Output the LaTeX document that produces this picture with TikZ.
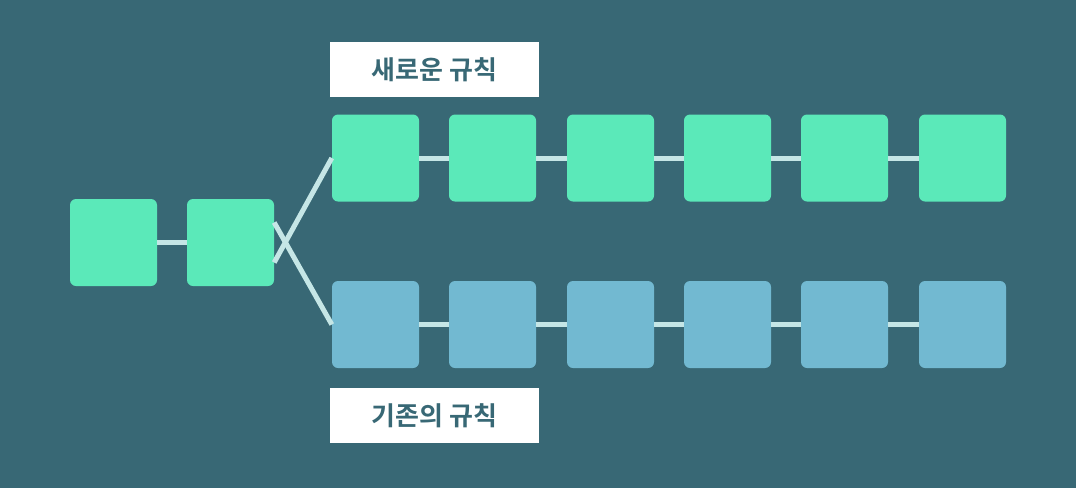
\documentclass[tikz,border=0pt]{standalone}
\usepackage{fontspec}
\newfontfamily\kr{Noto Sans CJK KR}[BoldFont={Noto Sans CJK KR Bold}]
\definecolor{bg}{HTML}{386875}
\definecolor{gr}{HTML}{5BE9B9}
\definecolor{bl}{HTML}{72B9D1}
\definecolor{ln}{HTML}{C5E6E6}
\definecolor{tx}{HTML}{386875}
\begin{document}
\begin{tikzpicture}[x=1pt,y=-1pt,
  blk/.style={minimum width=87pt,minimum height=87pt,inner sep=0,rounded corners=6pt},
  gblk/.style={blk,fill=gr},
  bblk/.style={blk,fill=bl},
  lnk/.style={draw=ln,line width=5pt},
  lab/.style={fill=white,minimum width=209pt,minimum height=55pt,inner sep=0,font=\kr\bfseries\fontsize{26}{30}\selectfont,text=tx}]
\fill[bg] (0,0) rectangle (1076,488);
\node[gblk] (a1) at (113.5,242.5) {};
\node[gblk] (a2) at (230.5,242.5) {};
\foreach \i/\x in {1/375.5,2/492.5,3/610.5,4/727.5,5/844.5,6/962.5}{
  \node[gblk] (t\i) at (\x,158) {};
  \node[bblk] (u\i) at (\x,324.5) {};
}
\begin{scope}[on background layer/.try]
\end{scope}
\draw[lnk] (a1.east) -- (a2.west);
\draw[lnk] ([yshift=-20pt]a2.east) -- (t1.west);
\draw[lnk] ([yshift=20pt]a2.east) -- (u1.west);
\foreach \i [count=\j from 2] in {1,...,5}{
  \draw[lnk] (t\i.east) -- (t\j.west);
  \draw[lnk] (u\i.east) -- (u\j.west);
}
\node[lab] (n1) at (434.5,69.5) {새로운 규칙};
\node[lab] (n2) at (434.5,415.5) {기존의 규칙};
\end{tikzpicture}
\end{document}
